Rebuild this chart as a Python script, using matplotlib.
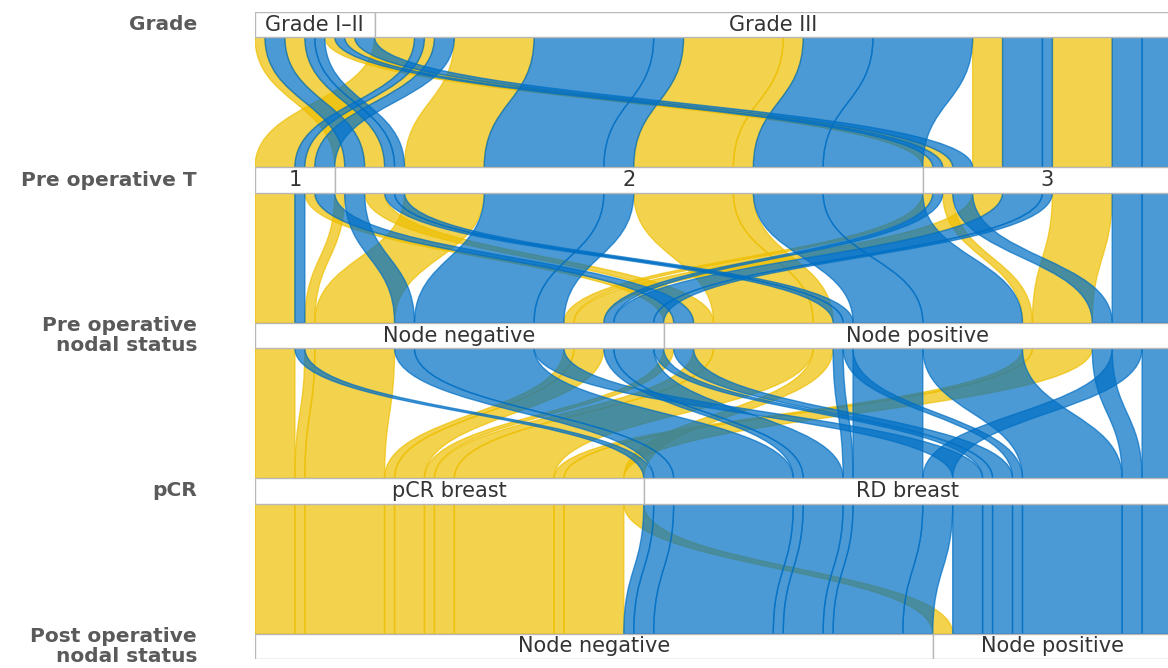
import matplotlib.pyplot as plt
import matplotlib.transforms as mtransforms
from matplotlib.path import Path
from matplotlib.patches import PathPatch, Rectangle

# axis titles and category labels (top to bottom)
axis_titles = ["Grade", "Pre operative T", "Pre operative\nnodal status",
               "pCR", "Post operative\nnodal status"]
grade_levels = ["Grade I\u2013II", "Grade III"]
t_levels = ["1", "2", "3"]
pre_n_levels = ["Node negative", "Node positive"]
pcr_levels = ["pCR breast", "RD breast"]
post_n_levels = ["Node negative", "Node positive"]

# one entry per patient group (index into the level lists above)
grade   = [1, 1, 0, 0, 1, 1, 1, 0, 0, 1, 1,  1, 1, 0, 0, 0, 1, 1, 1, 1, 0, 0, 1, 1, 1, 1]
t_stage = [0, 0, 1, 1, 1, 1, 1, 2, 2, 2, 2,  0, 0, 1, 1, 1, 1, 1, 1, 1, 2, 2, 2, 2, 2, 2]
pre_n   = [0, 1, 0, 1, 0, 1, 1, 0, 1, 0, 1,  0, 1, 0, 1, 1, 0, 0, 1, 1, 0, 1, 0, 0, 1, 1]
pcr     = [0, 0, 0, 0, 0, 0, 0, 0, 0, 0, 0,  1, 1, 1, 1, 1, 1, 1, 1, 1, 1, 1, 1, 1, 1, 1]
post_n  = [0, 0, 0, 0, 0, 0, 1, 0, 0, 0, 0,  0, 1, 0, 0, 1, 0, 1, 0, 1, 0, 1, 0, 1, 0, 1]
counts  = [4, 1, 1, 2, 8, 10, 2, 1, 1, 3, 6, 1, 2, 2, 1, 1, 12, 3, 7, 10, 1, 2, 4, 1, 3, 3]

levels = [grade_levels, t_levels, pre_n_levels, pcr_levels, post_n_levels]
values = [grade, t_stage, pre_n, pcr, post_n]
fill_colors = ["#EEBF02", "#006FC4"]  # pCR breast / RD breast

n_axes = len(values)
n_groups = len(counts)
total = sum(counts)

# lode ordering at each axis (zigzag outward from the axis)
lode_order = [[0, 1, 2, 3, 4], [1, 0, 2, 3, 4], [2, 1, 3, 0, 4],
              [3, 4, 2, 1, 0], [4, 3, 2, 1, 0]]

lo = [[0.0] * n_groups for _ in range(n_axes)]
for a in range(n_axes):
    idx = sorted(range(n_groups), key=lambda g: tuple(values[k][g] for k in lode_order[a]))
    pos = 0.0
    for g in idx:
        lo[a][g] = pos
        pos += counts[g]

fig = plt.figure(figsize=(11.68, 6.68), dpi=100)
ax = fig.add_axes([255 / 1168, 9 / 668, 917 / 1168, 647 / 668])
hh = 0.0805  # half height of the category boxes
ax.set_xlim(0, total)
ax.set_ylim(n_axes - 1 + hh, -hh)
ax.axis("off")

# ribbons
for a in range(n_axes - 1):
    y0 = a + hh
    y1 = a + 1 - hh
    ym = (y0 + y1) / 2
    for g in range(n_groups):
        l0, l1 = lo[a][g], lo[a + 1][g]
        r0, r1 = l0 + counts[g], l1 + counts[g]
        verts = [(l0, y0), (l0, ym), (l1, ym), (l1, y1), (r1, y1),
                 (r1, ym), (r0, ym), (r0, y0), (l0, y0)]
        codes = [Path.MOVETO, Path.CURVE4, Path.CURVE4, Path.CURVE4, Path.LINETO,
                 Path.CURVE4, Path.CURVE4, Path.CURVE4, Path.CLOSEPOLY]
        c = fill_colors[pcr[g]]
        ax.add_patch(PathPatch(Path(verts, codes), facecolor=c, edgecolor=c,
                               lw=1.0, alpha=0.7, zorder=2))

# category boxes
for a in range(n_axes):
    start = 0.0
    for ci, name in enumerate(levels[a]):
        w = sum(counts[g] for g in range(n_groups) if values[a][g] == ci)
        ax.add_patch(Rectangle((start, a - hh), w, 2 * hh, facecolor="white",
                               edgecolor="#b8b8b8", lw=1.0, zorder=3))
        ax.text(start + w / 2, a, name, ha="center", va="center", fontsize=15,
                color="#333333", zorder=4)
        start += w

# axis titles on the left
trans = mtransforms.blended_transform_factory(fig.transFigure, ax.transData)
for a, title in enumerate(axis_titles):
    ax.text(197 / 1168, a, title, transform=trans, ha="right", va="center",
            multialignment="right", fontsize=14.5, fontweight="bold",
            color="#5a5a5a", linespacing=1.1, clip_on=False)

plt.savefig("out.png", dpi=100)
